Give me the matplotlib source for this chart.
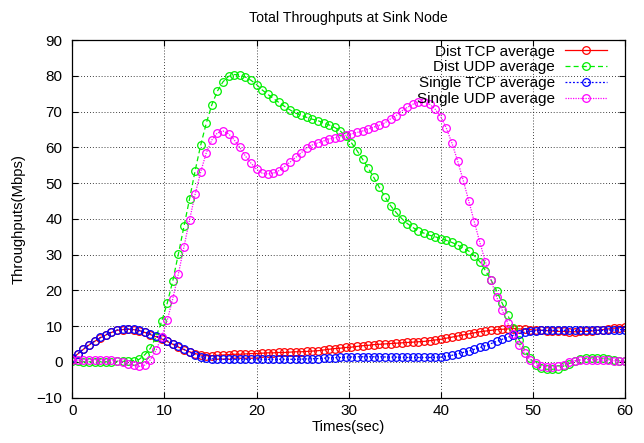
import numpy as np
import matplotlib
matplotlib.use("Agg")
import matplotlib.pyplot as plt

# time samples (gnuplot smoothing: 100 samples over 0..60 s)
times = np.linspace(0, 60, 100)

dist_tcp = [
    0.9, 2.2, 3.5, 4.7, 5.7, 6.7, 7.5, 8.2, 8.8, 9.0,
    9.1, 9.0, 8.7, 8.2, 7.6, 7.0, 6.4, 5.7, 4.9, 4.1,
    3.4, 2.8, 2.3, 1.9, 1.7, 1.7, 1.8, 1.9, 2.0, 2.1,
    2.1, 2.2, 2.3, 2.3, 2.4, 2.5, 2.5, 2.6, 2.6, 2.7,
    2.8, 2.8, 2.9, 3.0, 3.1, 3.3, 3.5, 3.7, 3.8, 4.0,
    4.1, 4.3, 4.5, 4.6, 4.8, 4.9, 5.0, 5.1, 5.2, 5.3,
    5.4, 5.5, 5.6, 5.7, 5.9, 6.1, 6.3, 6.6, 6.9, 7.2,
    7.5, 7.8, 8.1, 8.4, 8.6, 8.8, 9.0, 9.1, 9.2, 9.3,
    9.2, 9.1, 9.0, 8.9, 8.8, 8.7, 8.6, 8.5, 8.5, 8.4,
    8.4, 8.5, 8.5, 8.6, 8.8, 9.0, 9.2, 9.4, 9.5, 9.7,
]

dist_udp = [
    0.1, 0.1, 0.0, 0.0, 0.0, 0.0, 0.0, 0.0, 0.1, 0.1,
    0.2, 0.3, 0.7, 2.0, 3.8, 7.0, 11.3, 16.4, 22.7, 30.2,
    37.9, 45.6, 53.5, 60.7, 66.8, 72.0, 75.8, 78.4, 79.9, 80.4,
    80.3, 79.7, 78.8, 77.6, 76.1, 74.9, 73.7, 72.6, 71.5, 70.5,
    69.6, 69.0, 68.4, 67.9, 67.5, 66.9, 66.3, 65.6, 64.6, 63.1,
    61.3, 59.1, 56.7, 54.2, 51.6, 48.8, 46.2, 43.7, 41.8, 40.1,
    38.7, 37.6, 36.6, 36.0, 35.4, 35.0, 34.5, 34.0, 33.4, 32.7,
    31.8, 31.0, 29.7, 28.0, 25.5, 22.9, 19.9, 16.4, 13.1, 9.4,
    6.2, 3.4, 1.0, -0.8, -1.8, -2.1, -2.1, -1.9, -1.2, -0.5,
    0.2, 0.7, 1.0, 1.1, 1.1, 1.0, 0.8, 0.6, 0.3, 0.1,
]

single_tcp = [
    1.0, 2.3, 3.6, 4.8, 5.8, 6.8, 7.6, 8.3, 8.9, 9.1,
    9.2, 9.1, 8.8, 8.3, 7.8, 7.2, 6.6, 5.9, 5.1, 4.3,
    3.5, 2.7, 2.0, 1.4, 1.0, 0.85, 0.75, 0.7, 0.7, 0.7,
    0.7, 0.7, 0.7, 0.7, 0.7, 0.7, 0.7, 0.7, 0.7, 0.7,
    0.7, 0.75, 0.8, 0.85, 0.9, 1.0, 1.1, 1.15, 1.2, 1.3,
    1.35, 1.4, 1.4, 1.4, 1.4, 1.4, 1.35, 1.3, 1.3, 1.25,
    1.2, 1.2, 1.2, 1.2, 1.2, 1.25, 1.3, 1.5, 1.8, 2.2,
    2.6, 3.0, 3.5, 4.0, 4.5, 5.1, 5.7, 6.3, 6.9, 7.4,
    7.9, 8.3, 8.5, 8.7, 8.8, 8.8, 8.8, 8.8, 8.8, 8.8,
    8.8, 8.8, 8.8, 8.8, 8.8, 8.8, 8.9, 8.9, 9.0, 9.0,
]

single_udp = [
    0.4, 0.5, 0.6, 0.6, 0.6, 0.6, 0.6, 0.5, 0.3, 0.0,
    -0.5, -1.0, -1.3, -0.9, 0.6, 3.2, 7.0, 11.6, 17.7, 24.6,
    32.2, 39.7, 46.9, 53.2, 58.5, 62.1, 64.1, 64.6, 63.8, 62.1,
    60.0, 57.6, 55.6, 53.9, 52.8, 52.6, 52.8, 53.5, 54.6, 55.9,
    57.2, 58.5, 59.8, 60.7, 61.3, 61.8, 62.4, 62.7, 63.0, 63.4,
    63.8, 64.2, 64.6, 65.2, 65.7, 66.2, 66.9, 68.0, 68.9, 70.2,
    71.2, 72.1, 72.7, 72.8, 72.1, 70.7, 68.6, 65.4, 61.2, 56.3,
    50.9, 45.1, 39.2, 33.4, 28.0, 22.9, 18.1, 14.5, 10.8, 7.8,
    4.8, 2.4, 0.6, -0.4, -1.1, -1.4, -1.5, -1.3, -0.8, -0.2,
    0.3, 0.5, 0.6, 0.6, 0.6, 0.5, 0.4, 0.3, 0.2, 0.1,
]

labels = ["Dist TCP average", "Dist UDP average",
          "Single TCP average", "Single UDP average"]
x_ticks = [0, 10, 20, 30, 40, 50, 60]
y_ticks = [-10, 0, 10, 20, 30, 40, 50, 60, 70, 80, 90]

plt.rcParams['font.family'] = ['Liberation Sans', 'DejaVu Sans']

fig = plt.figure(figsize=(6.44, 4.43), dpi=100)
ax = fig.add_axes([0.1123, 0.1027, 0.9705 - 0.1123, 0.9091 - 0.1027])

series = [dist_tcp, dist_udp, single_tcp, single_udp]
colors = ['#ff0000', '#00ee00', '#0000ff', '#ff00ff']
styles = ['-', (0, (4, 2.5)), (0, (1.5, 1.5)), (0, (1, 1))]
for vals, col, ls, lab in zip(series, colors, styles, labels):
    ax.plot(times, vals, color=col, linestyle=ls, linewidth=0.9,
            marker='o', markersize=5.5, markerfacecolor='none',
            markeredgecolor=col, markeredgewidth=0.9, label=lab)

ax.set_xlim(0, 60)
ax.set_ylim(-10, 90)
ax.set_xticks(x_ticks)
ax.set_yticks(y_ticks)
ax.tick_params(direction='in', length=4, width=0.8, top=True, right=True,
               labelsize=11, colors='black')
ax.tick_params(axis='y', pad=7)
ax.tick_params(axis='x', pad=5)
ax.grid(True, color='black', linestyle=(0, (1, 2.5)), linewidth=0.6)
for s in ax.spines.values():
    s.set_linewidth(0.9)

ax.set_title("Total Throughputs at Sink Node", fontsize=10.2, pad=13)
ax.set_xlabel("Times(sec)", fontsize=10.7, labelpad=1)
ax.set_ylabel("Throughputs(Mbps)", fontsize=10.7, labelpad=8)

leg = ax.legend(loc='upper right', bbox_to_anchor=(0.9675, 0.988),
                markerfirst=False, frameon=False,
                fontsize=11, handlelength=2.75, handletextpad=0.65,
                labelspacing=0.12, borderaxespad=0.0, borderpad=0.0)

fig.savefig("out.png", dpi=100)
